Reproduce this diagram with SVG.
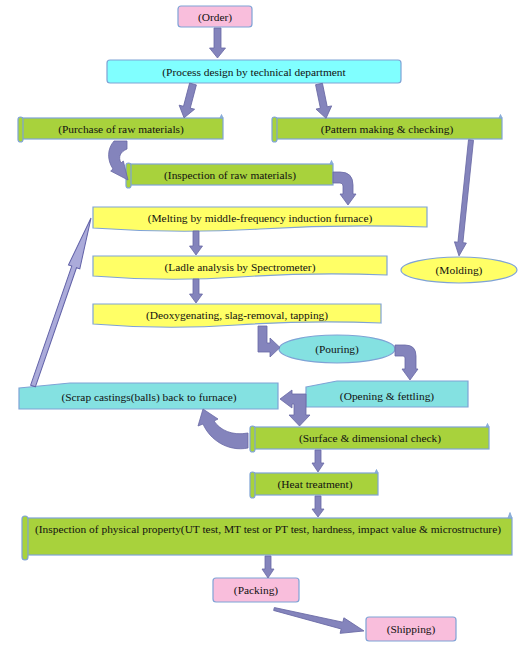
<svg xmlns="http://www.w3.org/2000/svg" width="523" height="651" viewBox="0 0 523 651">
<style>
text{font-family:"Liberation Serif","Times New Roman",serif;font-size:11.4px;fill:#111111;text-anchor:middle}
.bx{stroke:#7FA3D6;stroke-width:1.2}
.pink{fill:#F9BEDC}
.cyan{fill:#80FFFF}
.teal{fill:#84E1E1}
.yel{fill:#FFFF66}
.grn{fill:#A8D23C}
.knob{fill:#8FB4DA;stroke:#7FA3D6;stroke-width:0.8}
.ar{fill:#8484BC;stroke:#6868A4;stroke-width:0.8}
.thin{fill:#ABABDA;stroke:#6262A8;stroke-width:1}
</style>
<rect width="523" height="651" fill="#ffffff"/>

<g id="order"><rect class="bx pink" x="178" y="6" width="74" height="21" rx="3"/><text x="215" y="21">(Order)</text></g>
<g id="process"><rect class="bx cyan" x="107" y="60" width="294" height="23" rx="3"/><text x="254" y="76">(Process design by technical department</text></g>

<g id="purchase"><rect class="bx grn" x="22" y="118" width="201" height="21"/><rect class="bx grn" x="18" y="117" width="5" height="25" rx="2.5"/><path class="knob" d="M220,118 L221.5,114.5 L223,118 Z"/><text x="121" y="133">(Purchase of raw materials)</text></g>
<g id="pattern"><rect class="bx grn" x="276" y="118" width="226" height="21"/><rect class="bx grn" x="272" y="117" width="5" height="25" rx="2.5"/><path class="knob" d="M499,118 L500.5,114.5 L502,118 Z"/><text x="387" y="133">(Pattern making &amp; checking)</text></g>
<g id="inspect-raw"><rect class="bx grn" x="130" y="164" width="203" height="21"/><rect class="bx grn" x="126" y="163" width="5" height="25" rx="2.5"/><path class="knob" d="M330,164 L331.5,160.5 L333,164 Z"/><text x="230" y="179">(Inspection of raw materials)</text></g>

<g id="melting"><path class="bx yel" d="M93,207 H427 V227 Q343,224 260,229 T93,228 Z"/><text x="260" y="222">(Melting by middle-frequency induction furnace)</text></g>
<g id="ladle"><path class="bx yel" d="M93,256 H387 V275 Q313,272 240,277 T93,276 Z"/><text x="240" y="271">(Ladle analysis by Spectrometer)</text></g>
<g id="deoxy"><path class="bx yel" d="M93,304 H381 V323 Q309,320 237,325 T93,324 Z"/><text x="237" y="319">(Deoxygenating, slag-removal, tapping)</text></g>

<g id="molding"><ellipse class="bx yel" cx="459" cy="270" rx="58" ry="13"/><text x="459" y="274">(Molding)</text></g>
<g id="pouring"><ellipse class="bx teal" cx="337" cy="349" rx="58" ry="14"/><text x="337" y="353">(Pouring)</text></g>

<g id="scrap"><path class="bx teal" d="M19,388 L70,383 H278 V409 H19 Z"/><text x="149" y="401">(Scrap castings(balls) back to furnace)</text></g>
<g id="opening"><path class="bx teal" d="M306,387 L337,381 H468 V407 H306 Z"/><text x="387" y="400">(Opening &amp; fettling)</text></g>

<g id="surface"><rect class="bx grn" x="254" y="427" width="235" height="22"/><rect class="bx grn" x="250" y="426" width="5" height="26" rx="2.5"/><path class="knob" d="M486,427 L487.5,423.5 L489,427 Z"/><text x="370" y="442">(Surface &amp; dimensional check)</text></g>
<g id="heat"><rect class="bx grn" x="254" y="473" width="124" height="22"/><rect class="bx grn" x="250" y="472" width="5" height="26" rx="2.5"/><path class="knob" d="M375,473 L376.5,469.5 L378,473 Z"/><text x="315" y="488">(Heat treatment)</text></g>
<g id="inspect-phys"><rect class="bx grn" x="27" y="518" width="485" height="37"/><rect class="bx grn" x="22" y="516" width="6" height="44" rx="3"/><path class="knob" d="M508,518 L510,512.5 L512,518 Z"/><text x="268" y="533">(Inspection of physical property(UT test, MT test or PT test, hardness, impact value &amp; microstructure)</text></g>

<g id="packing"><rect class="bx pink" x="213" y="578" width="86" height="24" rx="3"/><text x="256" y="594">(Packing)</text></g>
<g id="shipping"><rect class="bx pink" x="366" y="617" width="90" height="24" rx="3"/><text x="411" y="633">(Shipping)</text></g>

<g id="connectors">
<polygon class="ar" transform="translate(217.5,28) rotate(90)" points="0,-3.5 20,-3.5 20,-8 30,0 20,8 20,3.5 0,3.5"/>
<polygon class="ar" transform="translate(193,84) rotate(104.8)" points="0,-3.5 24,-3.5 24,-8 35,0 24,8 24,3.5 0,3.5"/>
<polygon class="ar" transform="translate(319,84) rotate(78.4)" points="0,-3.5 24,-3.5 24,-8 35,0 24,8 24,3.5 0,3.5"/>
<polygon class="ar" transform="translate(471,140) rotate(95.9)" points="0,-2.5 103,-2.5 103,-6 116.5,0 103,6 103,2.5 0,2.5"/>
<path class="ar" d="M114,141 L127,141 L127,149 C120,152 118,157 121,163 L123.3,161 L128,180 L110.7,171 L113,169 C107,160 107,149 114,141 Z"/>
<path class="ar" d="M333,172 L340,172 Q353,172 353,185 L353,194 L356,194 L348,205 L340,194 L343,194 L343,186 Q343,183 340,183 L333,183 Z"/>
<polygon class="ar" transform="translate(196,231) rotate(90)" points="0,-3 15,-3 15,-6.5 24,0 15,6.5 15,3 0,3"/>
<polygon class="ar" transform="translate(196,279) rotate(90)" points="0,-3 15,-3 15,-6.5 24,0 15,6.5 15,3 0,3"/>
<path class="ar" d="M258,326 L267,326 L267,343 L270,343 L270,338 L280,347.5 L270,357 L270,352 L258,352 Z"/>
<path class="ar" d="M395,345 L405,345 Q416,345 416,356 L416,369 L418,369 L410,380 L402,369 L405,369 L405,358 Q405,356 403,356 L395,356 Z"/>
<path class="ar" d="M306,394 L292,394 L292,390 L280,399 L292,408 L292,404 L294,404 L294,415 L289,415 L299.5,426 L310,415 L306,415 Z"/>
<path class="ar" d="M248,433 C232,436 220,430 214,421 L218,419 L203,409 L198,426 L203,424 C210,440 228,452 248,448 Z"/>
<polygon class="thin" transform="translate(33,386) rotate(-70.95)" points="0,-2.5 126,-2.5 126,-6 177.7,0 126,6 126,2.5 0,2.5"/>
<polygon class="ar" transform="translate(318,450) rotate(90)" points="0,-3 13,-3 13,-6 22,0 13,6 13,3 0,3"/>
<polygon class="ar" transform="translate(318,496) rotate(90)" points="0,-3 13,-3 13,-6 21,0 13,6 13,3 0,3"/>
<polygon class="ar" transform="translate(268,556) rotate(90)" points="0,-3 13,-3 13,-6 22,0 13,6 13,3 0,3"/>
<polygon class="ar" transform="translate(274,609) rotate(13.7)" points="0,-1.5 70,-3.5 70,-8 92.6,0 70,8 70,3.5 0,1.5"/>
</g>
</svg>
